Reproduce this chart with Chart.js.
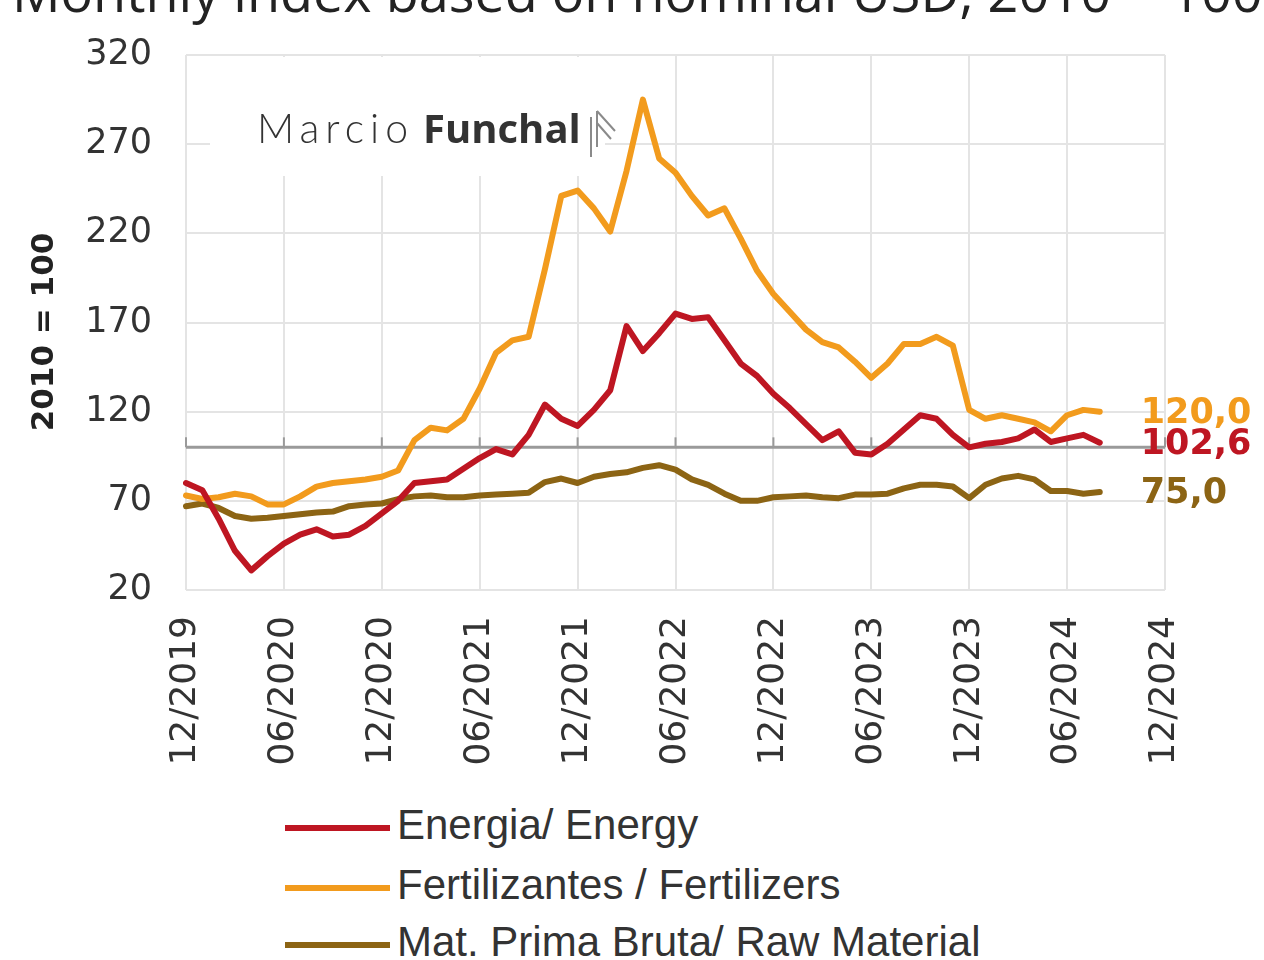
<!DOCTYPE html>
<html>
<head>
<meta charset="utf-8">
<script src="https://cdn.jsdelivr.net/npm/chart.js@4/dist/chart.umd.min.js"></script>
<style>
  body { margin: 0; background: #fff; }
  #wrap { position: relative; width: 1264px; height: 960px; overflow: hidden; }
  #chart { position: absolute; left: 0; top: 0; }
  .leg { position: absolute; left: 285px; font: 42px "Liberation Sans", Arial, sans-serif; color: #333; }
  .leg span { display: inline-block; width: 105px; height: 6px; vertical-align: middle; margin-right: 7px; }
</style>
</head>
<body>
<div id="wrap">
  <canvas id="chart" width="1264" height="800"></canvas>
  <div class="leg" style="top:801px"><span style="background:#be1622"></span>Energia/ Energy</div>
  <div class="leg" style="top:861px"><span style="background:#f29b1d"></span>Fertilizantes / Fertilizers</div>
  <div class="leg" style="top:918px"><span style="background:#8c6414"></span>Mat. Prima Bruta/ Raw Material</div>
</div>
<script>
// Monthly values, 12/2019 .. 08/2024 (2010 = 100)
const energy = [80, 76, 60, 42, 31, 39, 46, 51, 54, 50,
    51, 56, 63, 70, 80, 81, 82, 88, 94, 99,
    96, 107, 124, 116, 112, 121, 132, 168, 154, 164,
    175, 172, 173, 160, 147, 140, 130, 122, 113, 104,
    109, 97, 96, 102, 110, 118, 116, 107, 100, 102,
    103, 105, 110, 103, 105, 107, 102.6];
const fertilizers = [73, 71, 72, 74, 72.5, 68, 68, 72.5, 78, 80,
    81, 82, 83.5, 87, 104, 111, 109.5, 116, 133, 153,
    160, 162, 200, 241, 244, 234, 221, 255, 295, 262,
    254, 241, 230, 234, 217, 199, 186, 176, 166, 159,
    156, 148, 139, 147, 158, 158, 162, 157, 121, 116,
    118, 116, 114, 109, 118, 121, 120];
const rawMaterial = [67, 68.5, 66, 61.5, 60, 60.5, 61.5, 62.5, 63.5, 64,
    67, 68, 68.5, 71, 72.5, 73, 72, 72, 73, 73.5,
    74, 74.5, 80.5, 82.5, 80, 83.5, 85, 86, 88.5, 90,
    87.5, 82, 79, 74, 70, 70, 72, 72.5, 73, 72,
    71.5, 73.5, 73.5, 74, 77, 79, 79, 78, 71.5, 79,
    82.5, 84, 82, 75.5, 75.5, 74, 75];
const endLabels = ['120,0', '102,6', '75,0'];
const yTicks = [20, 70, 120, 170, 220, 270, 320];

// month categories 12/2019 .. 12/2024, a tick every 6 months
const labels = [];
for (let i = 0; i <= 60; i++) {
    const m = (11 + i) % 12 + 1;
    const yr = 2019 + Math.floor((11 + i) / 12);
    labels.push(String(m).padStart(2, '0') + '/' + yr);
}

const colors = { energy: '#be1622', fert: '#f29b1d', raw: '#8c6414' };
const gridColor = '#e4e4e4';

const decor = {
    id: 'decor',
    beforeDatasetsDraw(chart) {
        const { ctx, chartArea: a, scales: { x, y } } = chart;
        ctx.save();
        // blank patch behind the watermark
        ctx.fillStyle = '#fff';
        ctx.fillRect(a.left + 24, a.top + 2, 395, 119);
        // reference line at 100 with small ticks
        const y100 = y.getPixelForValue(100);
        ctx.strokeStyle = '#9a9a9a';
        ctx.lineWidth = 3;
        ctx.beginPath();
        ctx.moveTo(a.left, y100);
        ctx.lineTo(a.right, y100);
        ctx.stroke();
        ctx.lineWidth = 2;
        for (let i = 0; i < labels.length; i += 6) {
            const px = x.getPixelForValue(i);
            ctx.beginPath();
            ctx.moveTo(px, y100);
            ctx.lineTo(px, y100 - 10);
            ctx.stroke();
        }
        ctx.restore();
    },
    afterDatasetsDraw(chart) {
        const { ctx, chartArea: a, scales: { x, y } } = chart;
        ctx.save();

        // watermark
        ctx.fillStyle = '#333';
        ctx.textBaseline = 'alphabetic';
        ctx.textAlign = 'left';
        ctx.font = '300 41px Lato, "Open Sans", sans-serif';
        ctx.letterSpacing = '6px';
        ctx.fillText('Marcio', a.left + 71, a.top + 88);
        ctx.letterSpacing = '0px';
        ctx.font = 'bold 40px "Open Sans", sans-serif';
        ctx.fillText('Funchal', a.left + 237, a.top + 88);
        ctx.strokeStyle = '#8a8a8a';
        ctx.lineWidth = 2;
        const lx = a.left + 405, ly = a.top + 56;
        ctx.beginPath();
        ctx.moveTo(lx, ly + 6); ctx.lineTo(lx, ly + 46);
        ctx.moveTo(lx + 6, ly); ctx.lineTo(lx + 6, ly + 36);
        ctx.moveTo(lx + 6, ly); ctx.lineTo(lx + 24, ly + 20);
        ctx.moveTo(lx + 6, ly + 12); ctx.lineTo(lx + 20, ly + 28);
        ctx.stroke();

        // end-of-series values
        const sets = [fertilizers, energy, rawMaterial];
        const cols = [colors.fert, colors.energy, colors.raw];
        ctx.font = 'bold 35px "DejaVu Sans", sans-serif';
        ctx.textBaseline = 'middle';
        sets.forEach((s, k) => {
            const last = s.length - 1;
            ctx.fillStyle = cols[k];
            ctx.fillText(endLabels[k], x.getPixelForValue(last) + 41, y.getPixelForValue(s[last]) + 2);
        });

        // title (cut off at the top edge)
        ctx.fillStyle = '#222';
        ctx.textBaseline = 'alphabetic';
        ctx.font = '54px "Open Sans", sans-serif';
        ctx.fillText('Monthly index based on nominal USD, 2010 = 100', 12, 12);

        // y axis title
        ctx.translate(45, 332);
        ctx.rotate(-Math.PI / 2);
        ctx.textAlign = 'center';
        ctx.textBaseline = 'middle';
        ctx.font = 'bold 31px "DejaVu Sans", sans-serif';
        ctx.fillText('2010 = 100', 0, 0);
        ctx.restore();
    }
};

const ctx = document.getElementById('chart').getContext('2d');
new Chart(ctx, {
    type: 'line',
    data: {
        labels: labels,
        datasets: [
            { label: 'Energia/ Energy', data: energy, borderColor: colors.energy },
            { label: 'Fertilizantes / Fertilizers', data: fertilizers, borderColor: colors.fert },
            { label: 'Mat. Prima Bruta/ Raw Material', data: rawMaterial, borderColor: colors.raw }
        ]
    },
    options: {
        responsive: false,
        animation: false,
        layout: { padding: { top: 47, right: 99, left: 0, bottom: 0 } },
        elements: {
            line: { borderWidth: 6, tension: 0, borderCapStyle: 'round', borderJoinStyle: 'round' },
            point: { radius: 0 }
        },
        plugins: { legend: { display: false }, tooltip: { enabled: false } },
        scales: {
            x: {
                offset: false,
                border: { display: false },
                grid: {
                    drawTicks: false,
                    lineWidth: 2,
                    color: c => (c.index % 6 === 0 ? gridColor : 'rgba(0,0,0,0)')
                },
                ticks: {
                    autoSkip: false,
                    minRotation: 90,
                    maxRotation: 90,
                    padding: 26,
                    color: '#333',
                    font: { family: '"DejaVu Sans", sans-serif', size: 36 },
                    callback: (v, i) => (i % 6 === 0 ? labels[i] : '')
                },
                afterFit: s => { s.height = 210; }
            },
            y: {
                min: 20,
                max: 320,
                border: { display: false },
                grid: { drawTicks: false, lineWidth: 2, color: gridColor },
                afterBuildTicks: s => { s.ticks = yTicks.map(v => ({ value: v })); },
                ticks: {
                    padding: 34,
                    color: '#333',
                    font: { family: '"DejaVu Sans", sans-serif', size: 35 }
                },
                afterFit: s => { s.width = 186; }
            }
        }
    },
    plugins: [decor]
});
</script>
</body>
</html>
